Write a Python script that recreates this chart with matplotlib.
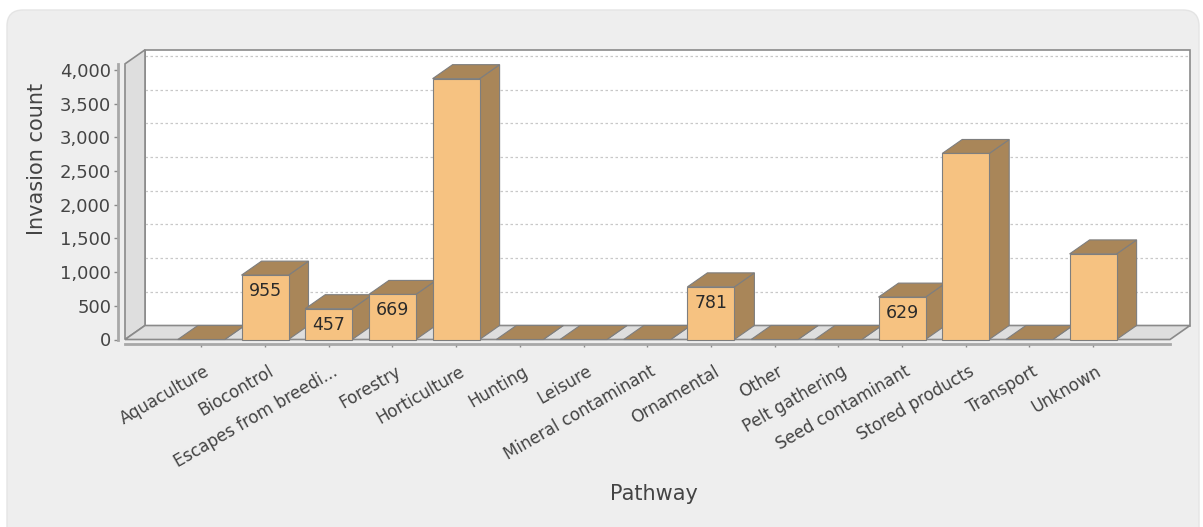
import matplotlib
matplotlib.use('Agg')
import matplotlib.pyplot as plt
from matplotlib.patches import Polygon, FancyBboxPatch
from matplotlib.ticker import FuncFormatter
from matplotlib.transforms import IdentityTransform, ScaledTranslation

# invasion counts per pathway
pathways = ['Aquaculture', 'Biocontrol', 'Escapes from breedi...', 'Forestry',
            'Horticulture', 'Hunting', 'Leisure', 'Mineral contaminant',
            'Ornamental', 'Other', 'Pelt gathering', 'Seed contaminant',
            'Stored products', 'Transport', 'Unknown']
counts = [0, 955, 457, 669, 3870, 0, 0, 0, 781, 0, 0, 629, 2760, 0, 1270]
labelled = [False, True, True, True, False, False, False, False,
            True, False, False, True, False, False, False]
yticks = [0, 500, 1000, 1500, 2000, 2500, 3000, 3500, 4000]

W, H, DPI = 1203, 527, 100

# plot frame in pixels (front plane)
left_px, right_px = 125, 1170
y0_px = 339.5
px_per_unit = 0.0674
ymax = 4090
cat0_px, cat_step = 201.3, 63.7
depth_x_px, depth_y_px = 20, 14

xmin = (left_px - cat0_px) / cat_step
xmax = (right_px - cat0_px) / cat_step
dx = depth_x_px / cat_step
dy = depth_y_px / px_per_unit
bar_w = 47 / cat_step

front_col = '#F6C281'
dark_col = '#A98659'
edge_col = '#7E7E7E'
wall_col = '#DEDEDE'
text_col = '#444444'

fig = plt.figure(figsize=(W / DPI, H / DPI), dpi=DPI, facecolor='white')

# rounded background panel
panel = FancyBboxPatch((7, -30), 1192, H - 10 + 30,
                       boxstyle='round,pad=0,rounding_size=16',
                       transform=IdentityTransform(), fc='#EEEEEE',
                       ec='#E4E4E4', lw=1, zorder=-10)
fig.patches.append(panel)

ax = fig.add_axes([left_px / W, (H - y0_px) / H,
                   (right_px - left_px) / W, ymax * px_per_unit / H])
ax.set_xlim(xmin, xmax)
ax.set_ylim(0, ymax)
ax.patch.set_visible(False)

# back wall
ax.add_patch(Polygon([(xmin + dx, dy), (xmax + dx, dy), (xmax + dx, ymax + dy),
                      (xmin + dx, ymax + dy)], closed=True, fc='white',
                     ec='#8A8A8A', lw=1.2, clip_on=False, zorder=1))
for v in yticks[1:]:
    ax.plot([xmin + dx, xmax + dx], [v + dy, v + dy], ls=(0, (2, 2)),
            color='#C8C8C8', lw=0.9, clip_on=False, zorder=2)

# left wall and floor
ax.add_patch(Polygon([(xmin, 0), (xmin + dx, dy), (xmin + dx, ymax + dy),
                      (xmin, ymax)], closed=True, fc=wall_col, ec='#8A8A8A',
                     lw=1.2, clip_on=False, zorder=3))
ax.add_patch(Polygon([(xmin, 0), (xmax, 0), (xmax + dx, dy), (xmin + dx, dy)],
                     closed=True, fc=wall_col, ec='#8A8A8A', lw=1.2,
                     clip_on=False, zorder=3))

# 3d bars
for i, v in enumerate(counts):
    x0, x1 = i - bar_w / 2, i + bar_w / 2
    z = 4 + i * 0.01
    ax.add_patch(Polygon([(x1, 0), (x1 + dx, dy), (x1 + dx, v + dy), (x1, v)],
                         closed=True, fc=dark_col, ec=edge_col, lw=0.8,
                         clip_on=False, zorder=z))
    ax.add_patch(Polygon([(x0, v), (x1, v), (x1 + dx, v + dy), (x0 + dx, v + dy)],
                         closed=True, fc=dark_col, ec=edge_col, lw=0.8,
                         clip_on=False, zorder=z))
    if v > 0:
        ax.add_patch(Polygon([(x0, 0), (x1, 0), (x1, v), (x0, v)], closed=True,
                             fc=front_col, ec=edge_col, lw=0.8, clip_on=False,
                             zorder=z))
    if labelled[i]:
        ax.annotate(f'{v:,}', (i, v), xytext=(0, -11.5),
                    textcoords='offset points', ha='center', va='center',
                    fontsize=12.5, color='#2A2A2A', zorder=10)

# axes
for side in ('top', 'right'):
    ax.spines[side].set_visible(False)
ax.spines['left'].set_position(('outward', 5))
ax.spines['bottom'].set_position(('outward', 3))
ax.spines['left'].set_bounds(0, ymax)
for side in ('left', 'bottom'):
    ax.spines[side].set_color('#A8A8A8')
    ax.spines[side].set_linewidth(2)

ax.set_yticks(yticks)
ax.yaxis.set_major_formatter(FuncFormatter(lambda v, p: f'{int(v):,}'))
ax.tick_params(axis='y', direction='out', length=3, width=1, color='#8A8A8A',
               labelsize=13, labelcolor=text_col, pad=2)

ax.set_xticks(range(len(pathways)))
ax.set_xticklabels(pathways, rotation=30, ha='right', va='center',
                   rotation_mode='anchor', fontsize=12, color=text_col)
ax.tick_params(axis='x', direction='out', length=2, width=1, color='#8A8A8A',
               pad=17)
shift = ScaledTranslation(7 / DPI, 0, fig.dpi_scale_trans)
for lab in ax.get_xticklabels():
    lab.set_transform(lab.get_transform() + shift)

fig.text(37 / W, 1 - 159 / H, 'Invasion count', rotation=90, ha='center',
         va='center', fontsize=15, color=text_col)
fig.text(654 / W, 1 - 494 / H, 'Pathway', ha='center', va='center',
         fontsize=15, color=text_col)

fig.savefig('out.png', dpi=DPI)
